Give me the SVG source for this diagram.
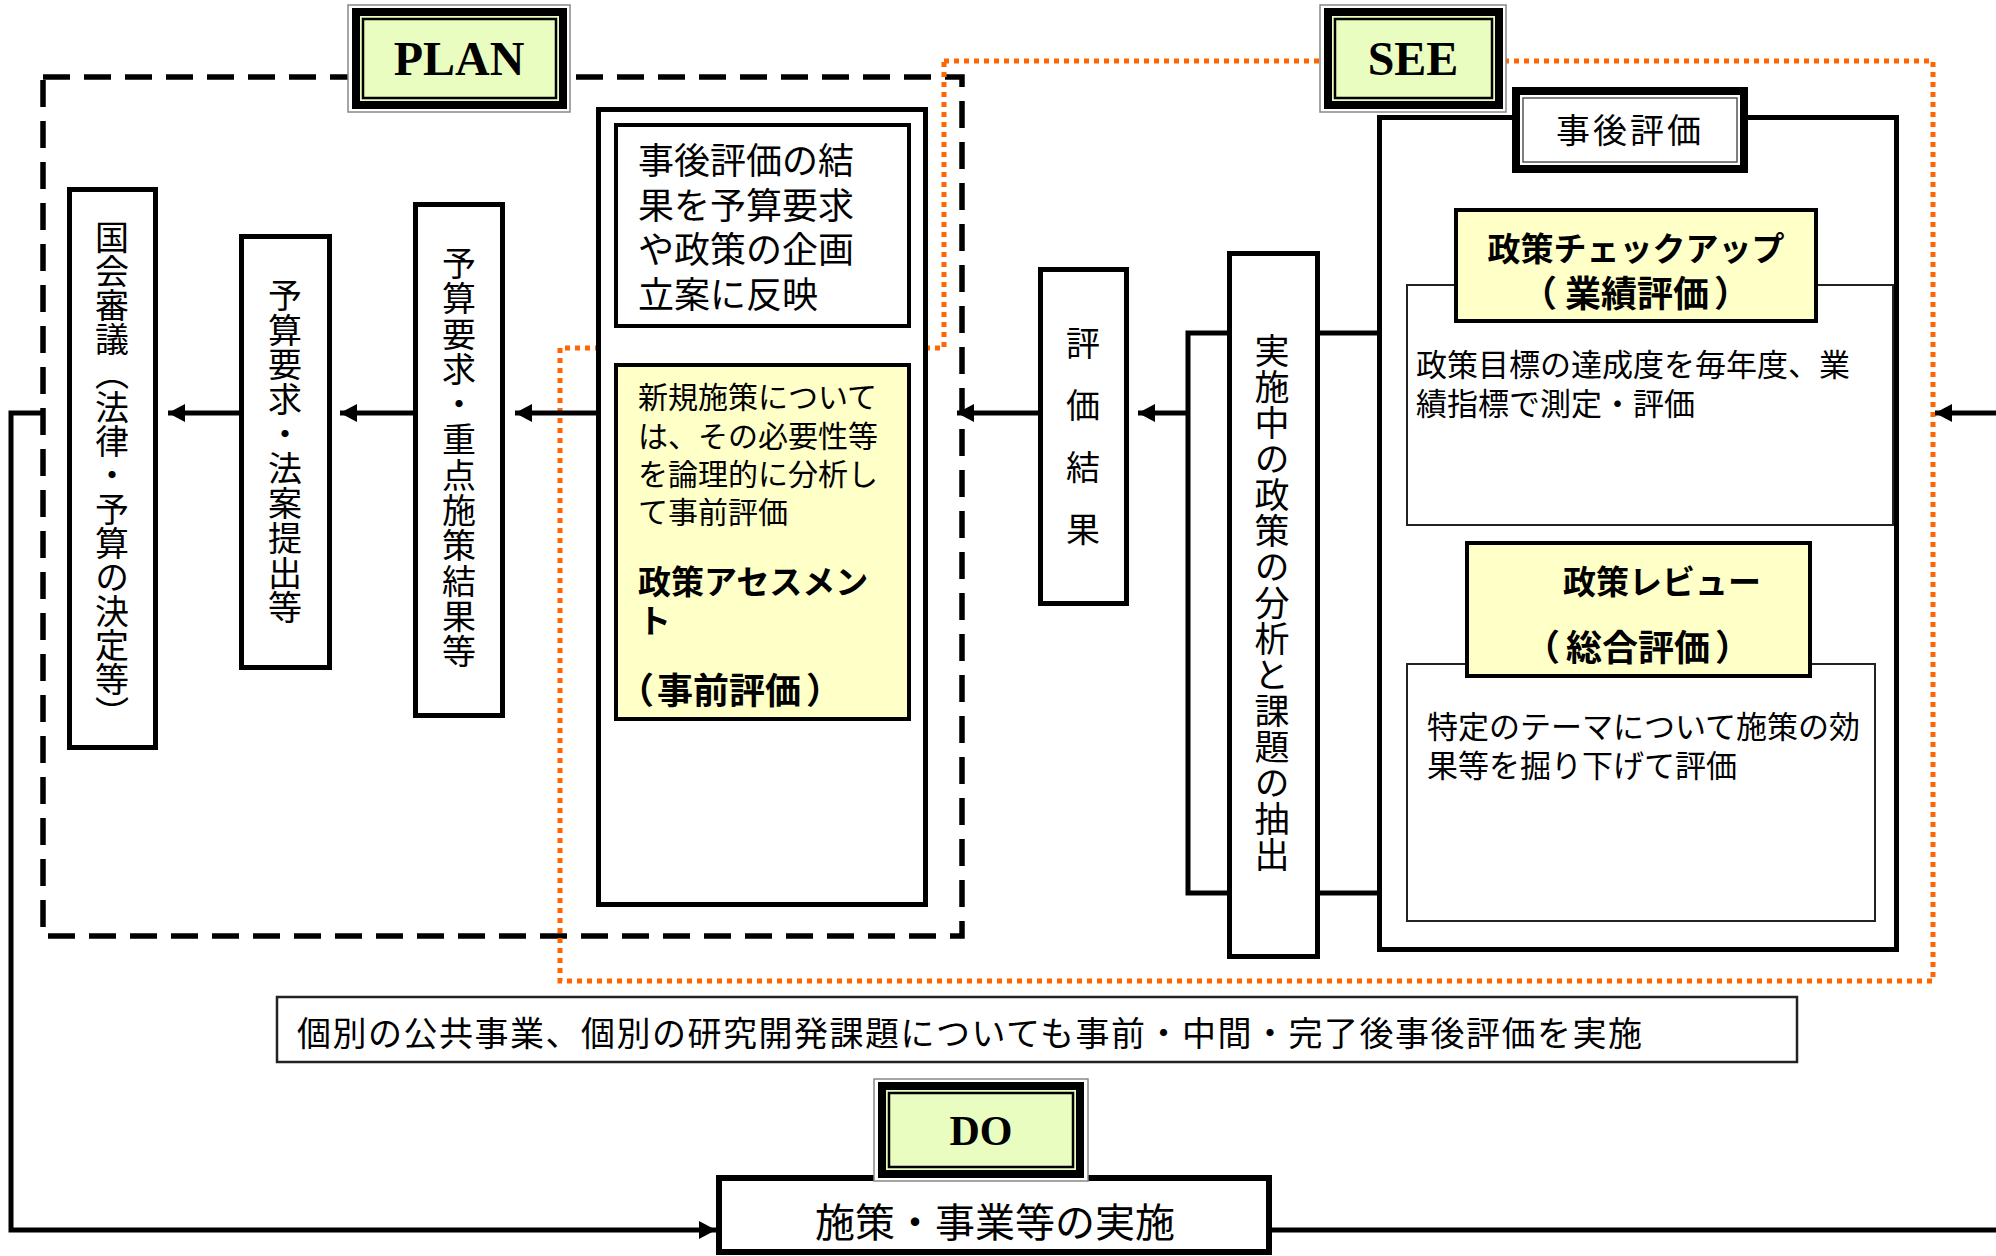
<svg xmlns="http://www.w3.org/2000/svg" width="1996" height="1256" viewBox="0 0 1996 1256">
<defs>
<style>
.jp{font-family:"Noto Sans CJK JP","Noto Sans CJK SC",sans-serif;fill:#000}
.b{font-weight:bold}
.lat{font-family:"Liberation Serif",serif;font-weight:bold;fill:#000}
.box{fill:#fff;stroke:#000;stroke-width:5}
.thin{fill:#fff;stroke:#222;stroke-width:2}
.yel{fill:#FFFFC8;stroke:#000;stroke-width:4}
.ln{fill:none;stroke:#000;stroke-width:5}
.vt{writing-mode:vertical-rl}
</style>
<marker id="ah" markerUnits="userSpaceOnUse" markerWidth="20" markerHeight="20" refX="17" refY="9" orient="auto">
<path d="M0,0 L17,9 L0,18 z" fill="#000"/>
</marker>
</defs>
<rect width="1996" height="1256" fill="#fff"/>

<!-- frames -->
<g id="plan-frame">
<rect x="43" y="77" width="919" height="859" fill="none" stroke="#000" stroke-width="5.5" stroke-dasharray="27 14"/>
</g>
<g id="see-frame">
<path d="M944,61 H1933 V981 H560 V348 H944 Z" fill="none" stroke="#FF6600" stroke-width="5" stroke-dasharray="5 5"/>
</g>

<!-- connectors -->
<g id="connectors">
<path class="ln" d="M596,413 H515" marker-end="url(#ah)"/>
<path class="ln" d="M413,413 H340" marker-end="url(#ah)"/>
<path class="ln" d="M239,413 H168" marker-end="url(#ah)"/>
<path class="ln" d="M1038,413 H957" marker-end="url(#ah)"/>
<path class="ln" d="M1188,413 H1138" marker-end="url(#ah)"/>
<path class="ln" d="M1996,413 H1935" marker-end="url(#ah)"/>
<path class="ln" d="M45,413 H11 V1230 H716" marker-end="url(#ah)"/>
<path class="ln" d="M1272,1230 H1996"/>
<path class="ln" d="M1395,333 H1188 V893 H1395"/>
</g>

<!-- PLAN side -->
<g id="n-kokkai">
<rect class="box" x="69.5" y="189.5" width="86" height="558"/>
<text class="jp vt" x="112" y="220" font-size="34">国会審議（法律・予算の決定等）</text>
</g>
<g id="n-yosan-hoan">
<rect class="box" x="241.5" y="236.5" width="88" height="431"/>
<text class="jp vt" x="285" y="278" font-size="34" letter-spacing="0.7">予算要求・法案提出等</text>
</g>
<g id="n-yosan-juten">
<rect class="box" x="415.5" y="204.5" width="87" height="511"/>
<text class="jp vt" x="459" y="246" font-size="34" letter-spacing="1.3">予算要求・重点施策結果等</text>
</g>
<g id="n-plan-main">
<rect class="box" x="598.5" y="109.5" width="327" height="795"/>
</g>
<g id="n-hanei">
<rect x="616" y="125" width="293" height="201" fill="#fff" stroke="#000" stroke-width="4"/>
<text class="jp" x="638" font-size="36"><tspan x="638" y="174">事後評価の結</tspan><tspan x="638" y="219">果を予算要求</tspan><tspan x="638" y="263">や政策の企画</tspan><tspan x="638" y="308">立案に反映</tspan></text>
</g>
<g id="n-assessment">
<rect class="yel" x="616" y="365" width="293" height="354"/>
<text class="jp" font-size="30"><tspan x="638" y="408">新規施策について</tspan><tspan x="638" y="447">は、その必要性等</tspan><tspan x="638" y="485">を論理的に分析し</tspan><tspan x="638" y="523">て事前評価</tspan></text>
<text class="jp b" font-size="33"><tspan x="638" y="594">政策アセスメン</tspan><tspan x="638" y="633">ト</tspan></text>
<text class="jp b" y="704" font-size="36"><tspan x="618">（</tspan><tspan x="657">事前評価</tspan><tspan x="806">）</tspan></text>
</g>

<!-- SEE side -->
<g id="n-hyoka-kekka">
<rect class="box" x="1040.5" y="269.5" width="86" height="334"/>
<text class="jp vt" x="1083" y="326" font-size="34" letter-spacing="28">評価結果</text>
</g>
<g id="n-jisshichu">
<rect class="box" x="1229.5" y="253.5" width="88" height="703"/>
<text class="jp vt" x="1272" y="333" font-size="35" letter-spacing="1">実施中の政策の分析と課題の抽出</text>
</g>
<g id="n-jigo">
<rect class="box" x="1379.5" y="117.5" width="517" height="832"/>
</g>
<g id="n-gyoseki-desc">
<rect class="thin" x="1407" y="285" width="486" height="240"/>
<text class="jp" font-size="31"><tspan x="1416" y="376">政策目標の達成度を毎年度、業</tspan><tspan x="1416" y="415">績指標で測定・評価</tspan></text>
</g>
<g id="n-checkup">
<rect class="yel" x="1456" y="210" width="360" height="111"/>
<text class="jp b" x="1636" y="261" font-size="33" text-anchor="middle">政策チェックアップ</text>
<text class="jp b" y="307" font-size="36"><tspan x="1521">（</tspan><tspan x="1565">業績評価</tspan><tspan x="1714">）</tspan></text>
</g>
<g id="n-sogo-desc">
<rect class="thin" x="1407" y="664" width="468" height="257"/>
<text class="jp" font-size="31"><tspan x="1427" y="738">特定のテーマについて施策の効</tspan><tspan x="1427" y="777">果等を掘り下げて評価</tspan></text>
</g>
<g id="n-review">
<rect class="yel" x="1467" y="543" width="343" height="133"/>
<text class="jp b" x="1662" y="594" font-size="33" text-anchor="middle">政策レビュー</text>
<text class="jp b" y="661" font-size="36"><tspan x="1524">（</tspan><tspan x="1566">総合評価</tspan><tspan x="1715">）</tspan></text>
</g>
<g id="n-jigo-header">
<rect x="1516" y="91" width="228" height="78" fill="#fff" stroke="#000" stroke-width="8"/>
<rect x="1523" y="98" width="214" height="64" fill="none" stroke="#555" stroke-width="1.5"/>
<text class="jp" x="1630" y="143" font-size="34" letter-spacing="3" text-anchor="middle">事後評価</text>
</g>

<!-- bottom -->
<g id="n-note">
<rect x="277" y="997" width="1520" height="65" fill="#fff" stroke="#222" stroke-width="2.5"/>
<text class="jp" x="297" y="1046" font-size="34" textLength="1345" lengthAdjust="spacing">個別の公共事業、個別の研究開発課題についても事前・中間・完了後事後評価を実施</text>
</g>
<g id="n-jisshi">
<rect x="719" y="1178" width="550" height="74" fill="#fff" stroke="#000" stroke-width="6"/>
<text class="jp" x="995" y="1237" font-size="40" text-anchor="middle">施策・事業等の実施</text>
</g>

<!-- phase labels -->
<g id="lbl-plan">
<rect x="348" y="5" width="222" height="107" fill="#fff" stroke="#888" stroke-width="1.5"/>
<rect x="356" y="12" width="207" height="93" fill="#EAFDC0" stroke="#000" stroke-width="8"/>
<rect x="363" y="19" width="193" height="79" fill="none" stroke="#000" stroke-width="2.5"/>
<text class="lat" x="459" y="75" font-size="48" text-anchor="middle">PLAN</text>
</g>
<g id="lbl-see">
<rect x="1320" y="5" width="186" height="107" fill="#fff" stroke="#888" stroke-width="1.5"/>
<rect x="1328" y="12" width="171" height="93" fill="#EAFDC0" stroke="#000" stroke-width="8"/>
<rect x="1335" y="19" width="157" height="79" fill="none" stroke="#000" stroke-width="2.5"/>
<text class="lat" x="1413" y="75" font-size="48" text-anchor="middle">SEE</text>
</g>
<g id="lbl-do">
<rect x="874" y="1079" width="214" height="102" fill="#fff" stroke="#888" stroke-width="1.5"/>
<rect x="882" y="1086" width="198" height="88" fill="#EAFDC0" stroke="#000" stroke-width="8"/>
<rect x="889" y="1093" width="184" height="74" fill="none" stroke="#000" stroke-width="2.5"/>
<text class="lat" x="981" y="1145" font-size="42" text-anchor="middle">DO</text>
</g>
</svg>
